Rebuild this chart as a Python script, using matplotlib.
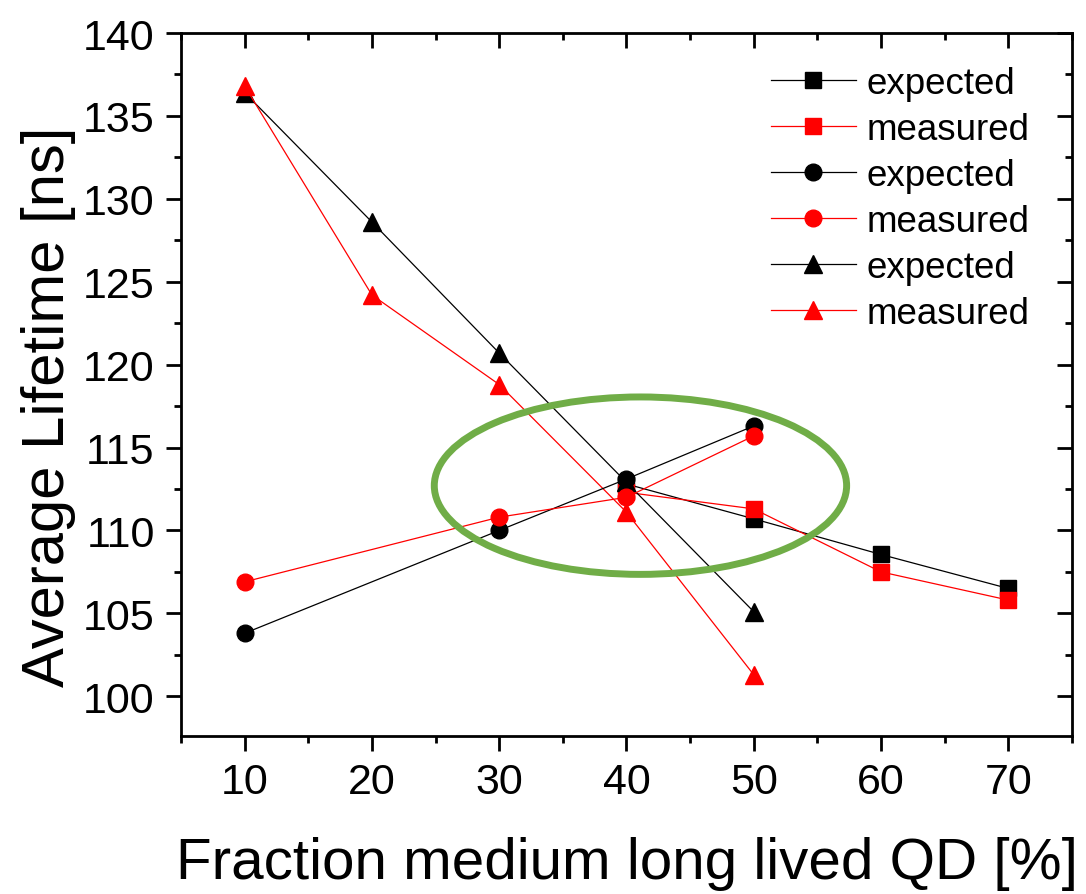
import matplotlib
matplotlib.use('Agg')
import matplotlib.pyplot as plt
from matplotlib.patches import Ellipse
from matplotlib.ticker import MultipleLocator

plt.rcParams['font.family'] = ['Liberation Sans', 'DejaVu Sans']

# data
x_sq = [40, 50, 60, 70]
sq_expected = [112.8, 110.7, 108.55, 106.5]
sq_measured = [112.3, 111.3, 107.5, 105.8]

x_ci = [10, 30, 40, 50]
ci_expected = [103.8, 110.0, 113.1, 116.3]
ci_measured = [106.9, 110.8, 112.0, 115.7]

x_tr = [10, 20, 30, 40, 50]
tr_expected = [136.4, 128.6, 120.7, 112.9, 105.1]
tr_measured = [136.8, 124.2, 118.8, 111.1, 101.3]

label_exp = 'expected'
label_meas = 'measured'

fig = plt.figure(figsize=(10.86, 8.95), dpi=100)
ax = fig.add_axes([0.1667, 0.1765, 0.8203, 0.7855])

lw = 0.9
ax.plot(x_sq, sq_expected, '-s', color='black', lw=lw, ms=11, label=label_exp, zorder=3)
ax.plot(x_sq, sq_measured, '-s', color='red', lw=lw, ms=11, label=label_meas, zorder=3)
ax.plot(x_tr, tr_expected, '-^', color='black', lw=lw, ms=13, label=label_exp, zorder=3)
ax.plot(x_tr, tr_measured, '-^', color='red', lw=lw, ms=13, label=label_meas, zorder=3)
ax.plot(x_ci, ci_expected, '-o', color='black', lw=lw, ms=12, label=label_exp, zorder=4)
ax.plot(x_ci, ci_measured, '-o', color='red', lw=lw, ms=12, label=label_meas, zorder=4)

# green highlight ellipse
ax.add_patch(Ellipse((41.1, 112.7), 32.4, 10.7, fill=False, edgecolor='#70AD47', lw=5, zorder=5))

ax.set_xlim(5, 75)
ax.set_ylim(97.6, 140)
ax.xaxis.set_major_locator(MultipleLocator(10))
ax.xaxis.set_minor_locator(MultipleLocator(5))
ax.yaxis.set_major_locator(MultipleLocator(5))
ax.yaxis.set_minor_locator(MultipleLocator(2.5))

ax.tick_params(which='both', direction='out', width=2, labelsize=31)
ax.tick_params(which='major', length=11, pad=8)
ax.tick_params(which='minor', length=5)
for s in ax.spines.values():
    s.set_linewidth(2)

# top/right ticks point inwards in the original
ax2 = ax.secondary_xaxis('top')
ax2.xaxis.set_major_locator(MultipleLocator(10))
ax2.xaxis.set_minor_locator(MultipleLocator(5))
ax2.tick_params(which='both', direction='in', width=2, labeltop=False)
ax2.tick_params(which='major', length=11)
ax2.tick_params(which='minor', length=5)
ax3 = ax.secondary_yaxis('right')
ax3.yaxis.set_major_locator(MultipleLocator(5))
ax3.yaxis.set_minor_locator(MultipleLocator(2.5))
ax3.tick_params(which='both', direction='in', width=2, labelright=False)
ax3.tick_params(which='major', length=11)
ax3.tick_params(which='minor', length=5)

ax.set_xlabel('Fraction medium long lived QD [%]', fontsize=42, labelpad=24)
ax.set_ylabel('Average Lifetime [ns]', fontsize=43)
ax.yaxis.set_label_coords(-0.118, 0.47)

h, l = ax.get_legend_handles_labels()
order = [0, 1, 4, 5, 2, 3]
ax.legend([h[i] for i in order], [l[i] for i in order], loc='upper right',
          bbox_to_anchor=(0.99, 1.0), frameon=False, fontsize=26.5,
          handlelength=2.3, handletextpad=0.3, labelspacing=0.3)

fig.savefig('out.png', dpi=100)
